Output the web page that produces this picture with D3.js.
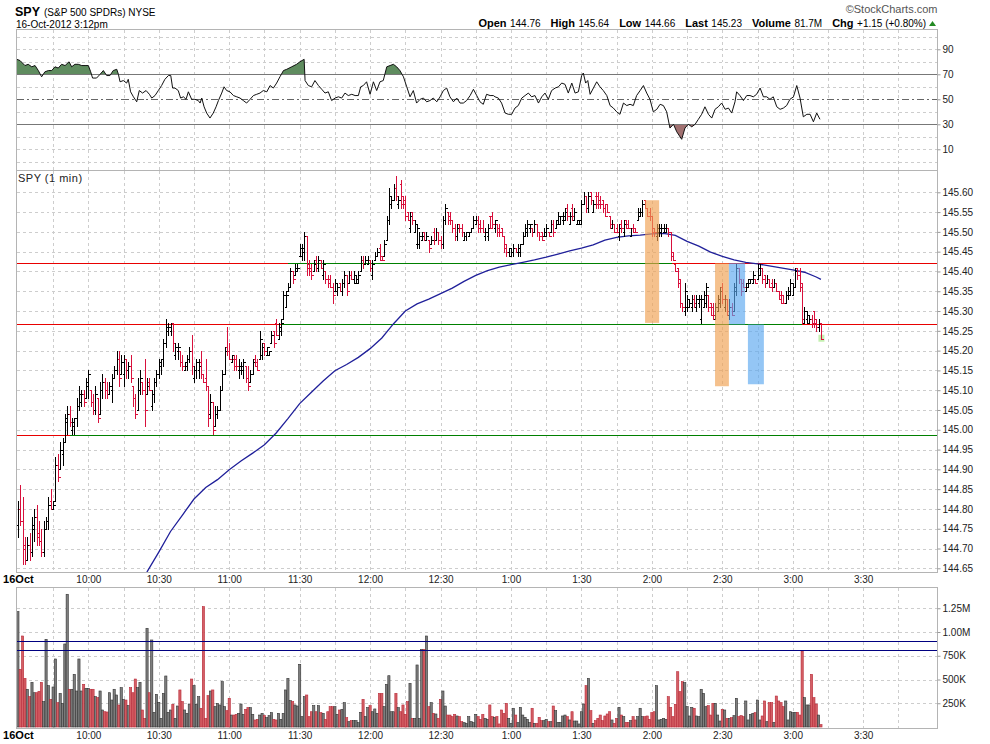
<!DOCTYPE html>
<html>
<head>
<meta charset="utf-8">
<title>SPY 1 min</title>
<script src="https://cdn.jsdelivr.net/npm/d3@7/dist/d3.min.js"></script>
<style>
  body { margin: 0; background: #fff; }
  svg { display: block; font-family: "Liberation Sans", Arial, sans-serif; }
</style>
</head>
<body>
<svg id="chart" width="990" height="744"></svg>
<script>
// ---- values ----
const quoteLabels = ['Open', 'High', 'Low', 'Last', 'Volume', 'Chg'];
const quoteValues = ['144.76', '145.64', '144.66', '145.23', '81.7M', '+1.15 (+0.80%)'];

// minutes after 9:30
const timeTickMinutes = [0, 30, 60, 90, 120, 150, 180, 210, 240, 270, 300, 330, 360];
const timeTickLabels = ['16Oct', '10:00', '10:30', '11:00', '11:30', '12:00', '12:30', '1:00', '1:30', '2:00', '2:30', '3:00', '3:30'];
const priceTicks = [144.65, 144.70, 144.75, 144.80, 144.85, 144.90, 144.95, 145.00, 145.05, 145.10,
                    145.15, 145.20, 145.25, 145.30, 145.35, 145.40, 145.45, 145.50, 145.55, 145.60];
const rsiTicks = [10, 30, 50, 70, 90];
const rsiGrid = [0, 10, 20, 40, 60, 80, 90, 100];
const volumeTicks = [250000, 500000, 750000, 1000000, 1250000];

// 1-minute bars from 9:30: open, high, low, close in cents above 144.00
const bars = [
  [76,82,73,80],[80,86,76,77],[77,83,66,70],[71,73,66,67],[67,73,67,71],[71,74,67,69],[69,78,68,76],[75,80,72,78],[78,81,71,73],[74,77,71,72],
  [72,75,68,69],[69,77,68,75],[75,78,75,77],[77,83,75,81],[82,85,80,80],[80,82,80,81],[82,93,82,91],[91,94,87,88],[90,97,90,95],[94,98,91,97],
  [97,104,97,103],[102,106,99,104],[104,106,101,102],[100,103,99,102],[101,103,99,103],[103,108,101,106],[106,111,105,109],[107,110,106,109],[109,110,106,107],[108,113,108,112],
  [111,115,108,114],[110,110,106,107],[107,109,104,105],[105,111,104,109],[108,108,102,103],[104,112,104,110],[110,114,108,112],[112,113,108,110],[110,112,108,109],[109,112,109,111],
  [110,114,107,113],[113,116,113,115],[115,120,114,118],[118,120,111,113],[114,119,114,117],[114,119,111,118],[118,118,113,115],[115,117,113,116],[116,119,112,113],[111,111,106,108],
  [108,109,103,104],[105,113,105,110],[110,115,109,113],[112,112,109,110],[110,118,101,105],[109,113,109,111],[112,113,110,110],[106,110,105,109],[109,113,107,112],[112,115,111,114],
  [114,118,113,117],[116,118,114,118],[118,123,116,122],[122,128,121,126],[125,127,124,126],[125,127,124,127],[127,127,120,122],[119,122,118,121],[120,122,118,121],[120,120,116,117],
  [117,119,115,116],[115,117,115,117],[116,119,115,118],[118,121,117,120],[120,124,114,116],[113,116,112,115],[115,118,113,117],[115,118,113,116],[117,120,113,114],[114,114,112,112],
  [113,118,110,111],[111,111,101,103],[104,109,103,107],[107,107,99,100],[101,106,101,104],[104,106,103,105],[105,111,105,110],[110,115,110,114],[114,121,114,120],[121,126,119,120],
  [120,122,118,118],[117,119,117,119],[118,119,115,116],[118,119,115,116],[115,118,113,116],[115,117,114,116],[115,118,113,117],[116,116,112,113],[113,116,110,111],[112,115,112,114],
  [114,118,114,117],[118,119,116,116],[117,118,115,115],[118,125,118,123],[119,122,118,121],[122,122,119,120],[119,121,119,121],[119,120,119,120],[122,125,122,124],[125,125,121,122],
  [127,128,124,124],[123,127,123,126],[125,128,124,127],[128,135,128,134],[131,135,131,134],[135,137,135,136],[136,141,136,140],[140,140,137,138],[139,142,139,141],[140,142,140,141],
  [144,147,144,146],[144,147,143,146],[145,150,143,149],[149,149,139,141],[142,143,139,140],[141,142,138,139],[140,143,140,142],[143,144,140,141],[141,144,140,143],[143,143,141,141],
  [139,143,138,142],[140,140,137,138],[138,139,136,137],[138,139,136,136],[136,137,132,134],[135,138,135,137],[135,137,134,136],[137,137,135,135],[135,138,134,137],[137,140,136,139],
  [139,139,134,135],[137,140,137,139],[139,140,138,138],[138,140,137,139],[137,139,137,138],[137,140,137,139],[140,144,140,143],[143,144,141,142],[142,144,142,143],[142,144,142,143],
  [143,143,140,141],[139,143,138,142],[143,145,143,144],[144,146,144,145],[146,147,143,143],[144,144,143,143],[144,148,144,147],[148,154,148,153],[153,161,152,159],[157,159,156,158],
  [158,162,158,161],[161,164,158,159],[157,159,156,158],[162,163,156,157],[159,159,156,157],[158,159,153,154],[155,155,153,153],[151,155,150,154],[155,155,152,153],[150,153,150,152],
  [147,152,146,151],[147,150,146,149],[148,150,148,149],[150,150,148,148],[148,150,148,149],[148,148,145,146],[147,149,147,148],[150,151,147,148],[148,151,148,150],[150,150,147,148],
  [148,149,146,147],[147,154,146,153],[153,157,152,156],[155,155,152,153],[154,155,152,153],[153,153,150,151],[151,152,148,149],[149,152,148,151],[152,152,150,151],[151,152,149,150],
  [148,150,148,149],[149,150,148,150],[149,150,149,150],[150,151,150,151],[151,154,151,153],[152,154,152,153],[153,154,150,151],[152,153,150,151],[151,153,150,150],[149,151,148,150],
  [149,152,148,151],[154,154,151,151],[154,155,151,152],[151,153,150,153],[152,152,149,150],[151,152,149,150],[151,151,149,149],[149,149,145,146],[147,147,144,145],[145,146,144,146],
  [144,146,144,145],[145,147,144,146],[146,146,145,145],[145,147,144,146],[145,147,144,147],[147,150,147,149],[149,152,149,151],[150,153,149,152],[151,152,150,152],[151,151,149,150],
  [150,153,150,152],[152,152,149,150],[150,150,148,149],[150,150,148,148],[149,151,149,150],[149,152,149,151],[150,150,149,149],[150,153,150,152],[152,153,149,150],[151,153,151,153],
  [152,155,152,154],[152,154,152,154],[153,155,152,154],[153,156,153,155],[156,157,153,154],[152,155,152,154],[156,157,153,154],[153,156,153,155],[152,153,152,153],[152,153,152,153],
  [152,158,152,157],[157,160,157,159],[159,159,155,156],[156,160,155,159],[160,160,157,158],[155,158,155,157],[159,160,156,157],[159,160,156,157],[158,159,156,157],[158,158,155,156],
  [156,157,154,154],[157,157,155,155],[154,154,151,152],[151,153,151,152],[152,152,150,150],[151,152,150,150],[149,152,148,151],[152,153,150,151],[150,153,149,152],[153,153,151,151],
  [152,153,151,151],[149,151,149,151],[151,152,150,150],[151,151,150,150],[153,156,153,155],[154,156,154,155],[155,158,154,157],[158,158,156,156],[156,156,154,154],[155,156,153,154],
  [154,154,149,150],[151,151,149,150],[149,152,148,151],[150,152,149,151],[150,152,149,151],[150,152,150,151],[150,152,150,151],[151,151,149,150],[150,150,143,144],[145,145,143,143],
  [142,142,140,140],[141,141,136,137],[138,138,131,132],[132,132,130,131],[130,137,129,135],[131,134,130,133],[131,133,131,132],[131,134,130,133],[133,134,131,132],[131,134,130,133],
  [132,134,131,133],[128,134,127,133],[131,135,131,134],[132,137,131,136],[134,134,130,131],[132,132,129,129],[131,132,128,129],[128,132,128,131],[130,134,130,133],[132,136,131,135],
  [136,137,132,133],[131,134,130,133],[133,133,129,130],[129,133,128,131],[131,132,129,129],[130,137,130,136],[135,142,134,141],[141,141,137,138],[138,138,134,135],[137,138,136,136],
  [135,137,135,137],[136,138,136,138],[137,138,137,138],[137,140,137,139],[138,138,137,137],[138,142,138,141],[139,142,139,141],[141,141,137,138],[139,139,136,137],[137,139,137,138],
  [138,138,136,136],[137,138,135,136],[136,138,136,137],[137,137,135,135],[135,135,133,133],[134,135,132,132],[134,134,132,132],[132,135,132,134],[134,136,133,135],[134,138,134,137],
  [134,137,134,136],[136,141,136,140],[141,141,138,139],[140,141,135,136],[137,137,127,128],[127,131,127,130],[128,130,127,129],[127,129,127,128],[128,129,126,127],[130,130,126,127],
  [128,128,125,126],[126,128,125,127],[127,127,123,123]
];

// shares per minute, thousands
const volumes = [
  1214,607,958,512,397,319,470,361,361,376, 470,267,923,435,291,421,716,256,354,249,
  874,1397,397,397,554,379,716,379,449,407, 407,397,397,319,309,379,179,161,158,361,
  284,397,337,232,414,291,284,225,414,361, 505,414,470,179,91,1039,361,916,154,344,
  260,91,354,537,154,179,239,91,221,390, 267,179,144,242,505,435,239,319,197,1267,
  91,330,379,390,214,249,232,477,214,172, 302,126,126,133,144,242,133,186,204,204,
  133,74,81,126,144,119,98,119,151,81, 74,144,81,144,390,512,277,267,232,221,
  660,109,319,337,109,161,225,161,225,151, 144,81,161,214,214,214,133,179,186,256,
  98,56,67,67,67,46,154,291,109,204, 225,161,190,144,354,354,214,449,540,161,
  161,354,204,161,232,133,267,460,91,91, 653,91,818,818,958,214,256,144,137,91,
  291,379,221,126,126,109,133,116,109,56, 46,39,109,56,46,133,109,81,133,91,
  81,232,109,102,
  109,32,179,144,249,91,39,197,126,46, 207,126,102,81,46,197,39,39,102,67,
  67,81,56,56,221,172,49,49,116,126, 109,74,161,63,63,32,161,242,435,512,
  172,39,67,91,126,67,116,137,161,74, 39,91,207,126,109,49,49,67,109,74,
  109,197,109,109,116,81,151,161,435,74, 81,91,81,319,207,109,239,582,372,477,
  467,214,116,207,197,116,109,397,354,214, 225,126,249,249,126,63,186,179,91,91,
  98,119,302,109,119,109,274,74,133,144, 151,284,74,116,274,56,256,256,49,326,
  274,256,214,274,74,161,151,154,154,126, 800,309,232,232,554,309,242,126,25
];

// moving average: [minute, cents above 144.00]
const maPoints = [
  [54,63.5],[55,64.1],[60,69.1],[65,74.3],[70,78.4],[75,82.5],[80,85.4],[85,87.4],[90,89.9],[95,92.1],
  [100,94.1],[105,96.2],[110,99.2],[115,102.8],[120,106.6],[125,109.5],[130,112.3],[135,114.9],[140,116.5],[145,118.3],
  [150,120.5],[155,123.2],[160,126.8],[165,130],[170,131.8],[175,133],[180,134.4],[185,135.8],[190,137.5],[195,139],
  [200,140.2],[205,141.1],[210,141.7],[215,142.3],[220,142.9],[225,143.6],[230,144.4],[235,145.2],[240,145.9],[245,146.7],
  [250,147.9],[255,148.6],[260,149],[265,149.2],[270,149.5],[275,149.6],[280,149.1],[285,147.6],[290,146.4],[295,144.9],
  [300,143.8],[305,142.9],[310,142.3],[315,141.9],[320,141.4],[325,140.9],[330,140.4],[335,139.8],[340,138.6],[342,138]
];

// RSI: [minute, value]
const rsiPoints = [
  [-0.5,82],[0.9,81],[3,77],[4.4,78],[5.9,76],[7.3,77],[8.7,73],[10.1,68],[11.5,72],[13,73],[14.4,73],[15.8,76],[17.2,75],[18.6,78],[20.1,77],
  [21.8,80],[22.9,76],[24.3,78],[25.7,78],[27.2,77],[28.6,77],[30,77],[31,72],[31.8,67],[33.5,67],[35,70],[36.4,73],[37.8,69],[39.2,69],[40.6,73],
  [42.1,74],[42.8,70],[43.5,64],[44.9,65],[46.3,63],[47,66],[48,56],[49.2,52],[50.6,48],[51.7,57],[53.1,55],[54.6,57],[56,54],[57,51],[58.4,53],
  [59.8,57],[61.2,61],[62.6,66],[64.1,69],[65.1,69],[65.9,59],[66.9,59],[68.3,57],[69.3,51],[70.5,52],[71.6,50],[72.6,56],[74,50],[75.4,50],[76.8,49],
  [77.6,47],[78.3,51],[79.3,44],[80.4,39],[81.8,35],[83.2,39],[84.4,44],[85.4,49],[86.8,55],[87.8,60],[88.9,57],[90.3,56],[91.8,53],[93.2,52],[94.6,51],
  [96,49],[97.4,47],[98.9,50],[100.3,53],[101.7,54],[103.1,55],[104.5,57],[106,56],[107.4,61],[108.8,59],[110.2,63],[111.6,68],[113.1,73],[114.5,74],[116.6,76],
  [118.7,78],[120.1,80],[121.9,82],[122.3,65],[123.7,61],[125.1,60],[126.5,65],[128,61],[129.4,58],[130.8,55],[132.2,56],[133.6,49],[135.1,51],[136.5,52],[137.9,51],
  [139.3,55],[140.7,53],[142.2,54],[143.6,53],[145,53],[146,60],[147.1,61],[148.5,64],[150,54],[151.4,64],[152.8,57],[154.2,64],[155.6,65],[157.1,76],[158.5,77],
  [159.9,78],[161.3,76],[162.7,73],[164.2,68],[165.6,60],[167,52],[168.4,57],[169.8,47],[171.3,50],[172.7,51],[174.1,48],[175.5,49],[176.9,51],[178.4,48],[179.8,52],
  [181.2,57],[182.6,59],[184,52],[185.5,48],[186.9,51],[188.3,47],[189.7,47],[191.1,49],[192.6,53],[194,58],[195.4,53],[196.8,48],[198.2,46],[199.6,54],[201.1,53],
  [202.5,53],[203.2,52],[204.6,51],[206,47],[207.5,39],[208.9,38],[210.3,38],[211.7,43],[213.1,45],[214.6,51],[216,53],[217.4,55],[218.8,52],[220.2,53],[221.7,47],
  [223.1,52],[224.5,55],[225.9,50],[227.3,57],[228.8,59],[230.2,60],[231.6,63],[233,62],[234.4,55],[235.9,63],[237.3,55],[238.7,56],[240.1,69],[240.8,71],[241.8,63],
  [242.7,65],[243.7,54],[245.1,59],[246.5,64],[247.9,60],[249.3,57],[250.8,53],[252.2,45],[253.6,43],[255,40],[256.4,38],[257.9,47],[259.3,45],[260.7,46],[262.1,45],
  [263.5,53],[265,57],[266.4,61],[267.8,55],[269.2,50],[270.6,40],[272.1,42],[273.5,46],[274.9,45],[276.3,40],[277.7,27],[279.2,30],[280.6,24],[282.7,18],[284.1,27],
  [285.5,30],[287,28],[288.4,30],[289.8,34],[291.2,38],[292.6,44],[294.1,38],[295.5,35],[296.9,42],[298.3,44],[299.7,47],[301.2,42],[302.6,43],[304,39],[305.4,48],
  [306.1,56],[307.5,53],[309,49],[310.4,53],[311.8,53],[313.2,52],[314.6,54],[316.1,59],[317.5,52],[318.9,52],[320.3,50],[321.7,52],[323.2,44],[324.6,42],[326,43],
  [327.4,45],[328.8,50],[330.3,52],[331.7,61],[333.1,51],[334.5,36],[336,38],[337.4,38],[338.8,32],[340.2,39],[341.6,34]
];

// drawn support/resistance lines and the minutes where price broke through them
const levelPrices = [145.421, 145.266, 144.987];
const levelBreaks = [[115, 278.4], [112, 334], [22.2]];
const volumeLevels = [905000, 811000];

// highlight boxes: minute span and price span
const boxes = [
  { kind: 'orange', m0: 267.1, m1: 273.1, p0: 145.58, p1: 145.27 },
  { kind: 'orange', m0: 296.9, m1: 302.8, p0: 145.421, p1: 145.11 },
  { kind: 'blue',   m0: 302.8, m1: 309.7, p0: 145.421, p1: 145.266 },
  { kind: 'blue',   m0: 310.9, m1: 317.7, p0: 145.266, p1: 145.115 }
];

// ---- layout ----
const svg = d3.select('#chart');
const left = 16.5, right = 937.5;
const rsiPanel = [29.5, 170.5], pricePanel = [170.5, 572.5], volPanel = [587.5, 728.5];

const x = d3.scaleLinear().domain([0, 360]).range([17.9, 863.2]);
const yRsi = d3.scaleLinear().domain([30, 70]).range([124.3, 74.3]);
const yPrice = d3.scaleLinear().domain([144.65, 145.60]).range([568.3, 192.3]);
const yVol = d3.scaleLinear().domain([0, 1000000]).range([727, 632]);
const cents = c => 144 + c / 100;
const isDown = i => bars[i][3] < bars[i][0];
const gridMinutes = d3.range(15, 376, 15);

const RED = '#d8103c', GRID = '#cdcdcd', BORDER = '#b4b4b4';

const defs = svg.append('defs');
function clip(id, x0, y0, x1, y1) {
  defs.append('clipPath').attr('id', id).append('rect')
    .attr('x', x0).attr('y', y0).attr('width', x1 - x0).attr('height', y1 - y0);
}
clip('c-rsi', left, rsiPanel[0], right, rsiPanel[1]);
clip('c-price', left, pricePanel[0], right, pricePanel[1]);
clip('c-vol', left, volPanel[0], right, volPanel[1]);
clip('c-rsi-hi', left, rsiPanel[0], right, yRsi(70));
clip('c-rsi-lo', left, yRsi(30), right, rsiPanel[1]);

function grid(panel, yValues, yScale) {
  const g = svg.append('g').attr('stroke', GRID).attr('stroke-dasharray', '3,3')
    .attr('shape-rendering', 'crispEdges');
  g.selectAll('.v').data(gridMinutes).join('line')
    .attr('x1', d => Math.round(x(d)) + 0.5).attr('x2', d => Math.round(x(d)) + 0.5)
    .attr('y1', panel[0]).attr('y2', panel[1]);
  g.selectAll('.h').data(yValues).join('line')
    .attr('x1', left).attr('x2', right)
    .attr('y1', d => Math.round(yScale(d)) + 0.5).attr('y2', d => Math.round(yScale(d)) + 0.5);
}
grid(rsiPanel, rsiGrid, yRsi);
grid(pricePanel, priceTicks, yPrice);
grid(volPanel, volumeTicks, yVol);

// ---- RSI panel ----
const gRsi = svg.append('g').attr('clip-path', 'url(#c-rsi)');
gRsi.append('g').attr('clip-path', 'url(#c-rsi-hi)').append('path').datum(rsiPoints)
  .attr('fill', '#5f8c5f')
  .attr('d', d3.area().x(d => x(d[0])).y0(yRsi(70)).y1(d => yRsi(d[1])));
gRsi.append('g').attr('clip-path', 'url(#c-rsi-lo)').append('path').datum(rsiPoints)
  .attr('fill', '#a07070')
  .attr('d', d3.area().x(d => x(d[0])).y0(yRsi(30)).y1(d => yRsi(d[1])));
[70, 30].forEach(v => gRsi.append('line').attr('x1', left).attr('x2', right)
  .attr('y1', Math.round(yRsi(v)) + 0.5).attr('y2', Math.round(yRsi(v)) + 0.5)
  .attr('stroke', '#777').attr('shape-rendering', 'crispEdges'));
gRsi.append('line').attr('x1', left).attr('x2', right)
  .attr('y1', Math.round(yRsi(50)) + 0.5).attr('y2', Math.round(yRsi(50)) + 0.5)
  .attr('stroke', '#666').attr('stroke-dasharray', '7,3,2,3').attr('shape-rendering', 'crispEdges');
gRsi.append('path').datum(rsiPoints)
  .attr('fill', 'none').attr('stroke', '#111').attr('stroke-width', 1)
  .attr('d', d3.line().x(d => x(d[0])).y(d => yRsi(d[1])));

// ---- price panel ----
const gPrice = svg.append('g').attr('clip-path', 'url(#c-price)');
const domainEnd = [x.invert(left), x.invert(right)];
levelPrices.forEach((p, li) => {
  const cuts = [domainEnd[0], ...levelBreaks[li], domainEnd[1]];
  const yy = Math.round(yPrice(p)) + 0.5;
  for (let k = 0; k < cuts.length - 1; k++) {
    gPrice.append('line')
      .attr('x1', x(cuts[k])).attr('x2', x(cuts[k + 1])).attr('y1', yy).attr('y2', yy)
      .attr('stroke', k % 2 === 0 ? '#e80000' : '#008000').attr('shape-rendering', 'crispEdges');
  }
});

gPrice.append('path').datum(maPoints)
  .attr('fill', 'none').attr('stroke', '#20209a').attr('stroke-width', 1.3)
  .attr('d', d3.line().x(d => x(d[0])).y(d => yPrice(cents(d[1]))));

// last-price marker behind the final bar
const lastI = bars.length - 1;
gPrice.append('rect')
  .attr('x', x(lastI) - 2.5).attr('width', 6)
  .attr('y', yPrice(cents(bars[lastI][3])) - 4).attr('height', 7)
  .attr('fill', '#c4f0b0');

gPrice.append('g').selectAll('path').data(bars).join('path')
  .attr('fill', 'none').attr('stroke-width', 1).attr('shape-rendering', 'crispEdges')
  .attr('stroke', (b, i) => isDown(i) ? RED : '#000')
  .attr('d', (b, i) => {
    const cx = Math.round(x(i)) + 0.5;
    const yh = Math.round(yPrice(cents(b[1]))), yl = Math.round(yPrice(cents(b[2]))) + 1;
    const yo = Math.round(yPrice(cents(b[0]))) + 0.5, yc = Math.round(yPrice(cents(b[3]))) + 0.5;
    return `M${cx},${yh}V${Math.max(yl, yh + 1)}M${cx - 2},${yo}H${cx}M${cx},${yc}H${cx + 2}`;
  });

const boxFill = { orange: '#f0a050', blue: '#5aa8f0' };
gPrice.selectAll('.box').data(boxes).join('rect')
  .attr('x', d => x(d.m0)).attr('width', d => x(d.m1) - x(d.m0))
  .attr('y', d => yPrice(d.p0)).attr('height', d => yPrice(d.p1) - yPrice(d.p0))
  .attr('fill', d => boxFill[d.kind]).attr('fill-opacity', 0.65);

svg.append('text').attr('x', 18).attr('y', 182).attr('font-size', 11)
  .attr('letter-spacing', 0.5).attr('fill', '#222')
  .text('SPY (1 min)');

// ---- volume panel ----
const gVol = svg.append('g').attr('clip-path', 'url(#c-vol)');
gVol.selectAll('rect').data(volumes).join('rect')
  .attr('x', (v, i) => x(i) - 1.1).attr('width', 2.2)
  .attr('y', v => yVol(v * 1000)).attr('height', v => yVol(0) - yVol(v * 1000))
  .attr('fill', (v, i) => isDown(i) ? '#d46065' : '#7e7e7e')
  .attr('stroke', (v, i) => isDown(i) ? '#b82838' : '#333').attr('stroke-width', 0.6);
gVol.selectAll('.lvl').data(volumeLevels).join('line')
  .attr('x1', left).attr('x2', right)
  .attr('y1', d => Math.round(yVol(d)) + 0.5).attr('y2', d => Math.round(yVol(d)) + 0.5)
  .attr('stroke', '#000080').attr('shape-rendering', 'crispEdges');

// ---- borders ----
[rsiPanel, pricePanel, volPanel].forEach(p => svg.append('rect')
  .attr('x', left).attr('y', p[0]).attr('width', right - left).attr('height', p[1] - p[0])
  .attr('fill', 'none').attr('stroke', BORDER).attr('shape-rendering', 'crispEdges'));

// ---- axes ----
function styleAxis(g) {
  g.attr('font-family', '"Liberation Sans", Arial, sans-serif').attr('font-size', 10);
  g.select('.domain').remove();
  g.selectAll('.tick line').attr('stroke', '#999');
  g.selectAll('.tick text').attr('fill', '#222');
}
svg.append('g').attr('transform', `translate(${right},0)`)
  .call(d3.axisRight(yRsi).tickValues(rsiTicks).tickSize(3).tickPadding(2)).call(styleAxis);
svg.append('g').attr('transform', `translate(${right},0)`)
  .call(d3.axisRight(yPrice).tickValues(priceTicks).tickFormat(d3.format('.2f')).tickSize(3).tickPadding(2))
  .call(styleAxis);
svg.append('g').attr('transform', `translate(${right},0)`)
  .call(d3.axisRight(yVol).tickValues(volumeTicks).tickSize(3).tickPadding(2)
    .tickFormat(v => v >= 1e6 ? (v / 1e6).toFixed(2) + 'M' : (v / 1000) + 'K'))
  .call(styleAxis);

[pricePanel[1], volPanel[1]].forEach(yy => {
  svg.append('g').attr('transform', `translate(0,${yy})`)
    .call(d3.axisBottom(x).tickValues(timeTickMinutes).tickFormat((d, i) => timeTickLabels[i])
      .tickSize(0).tickPadding(3))
    .call(styleAxis)
    .call(g => g.selectAll('.tick text').filter((d, i) => i === 0)
      .attr('font-weight', 'bold').attr('font-size', 11).attr('fill', '#000'));
});

// ---- header ----
const title = svg.append('text').attr('x', 15).attr('y', 15.5).attr('fill', '#000');
title.append('tspan').attr('font-weight', 'bold').attr('font-size', 12.5).text('SPY');
title.append('tspan').attr('font-size', 10).attr('dx', 4).text('(S&P 500 SPDRs) NYSE');
svg.append('text').attr('x', 16).attr('y', 27.5).attr('font-size', 10).attr('fill', '#000')
  .text('16-Oct-2012 3:12pm');

svg.append('text').attr('x', right).attr('y', 13).attr('text-anchor', 'end')
  .attr('font-size', 11).attr('fill', '#555').text('\u00A9StockCharts.com');

const quote = svg.append('text').attr('x', 926).attr('y', 27).attr('text-anchor', 'end').attr('fill', '#000');
quoteLabels.forEach((lab, i) => {
  quote.append('tspan').attr('font-weight', 'bold').attr('font-size', 11)
    .attr('dx', i === 0 ? 0 : 10).text(lab);
  quote.append('tspan').attr('font-size', 10).attr('dx', 3.5).text(quoteValues[i]);
});
svg.append('path').attr('d', 'M929,26L932.5,21L936,26Z').attr('fill', '#228a22');
</script>
</body>
</html>
